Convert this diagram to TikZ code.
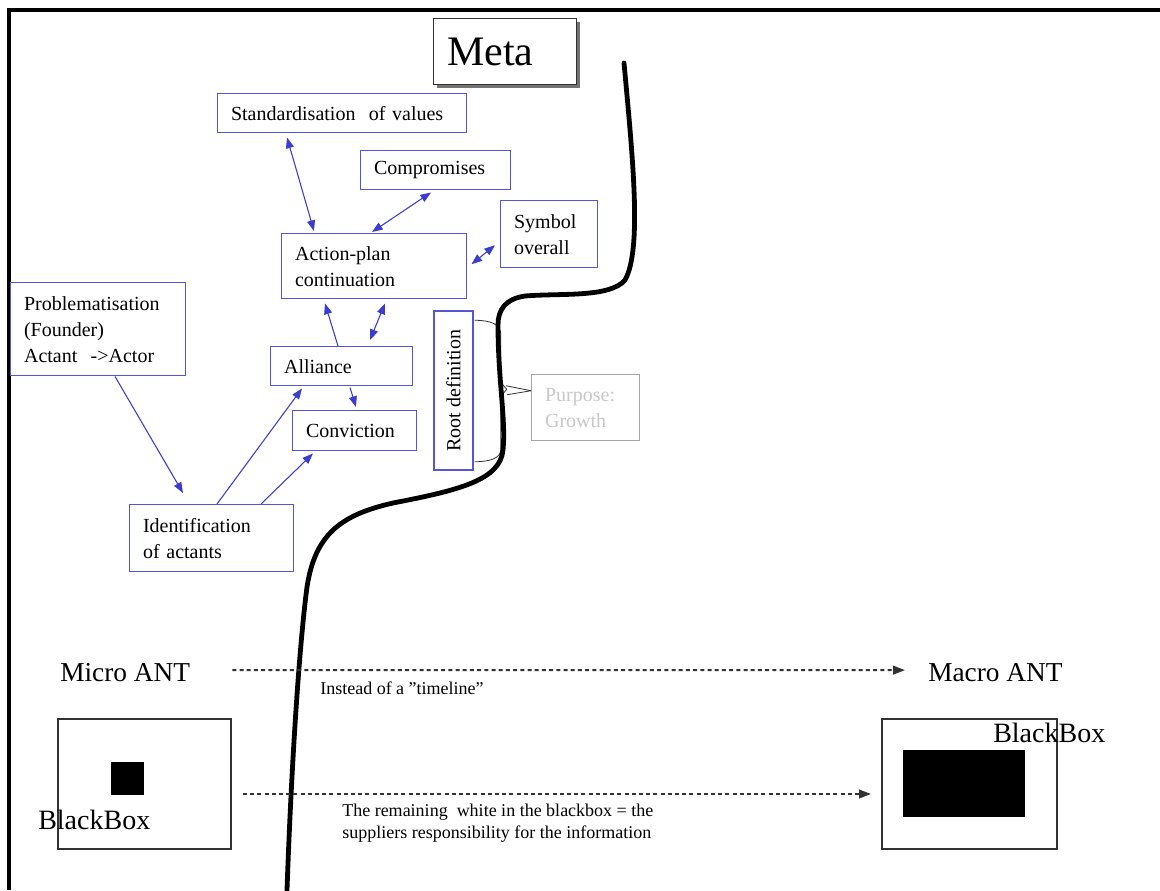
\documentclass[tikz,border=0pt]{standalone}
\usepackage{fontspec}
\setmainfont{Liberation Serif}
\usetikzlibrary{arrows.meta,calc,shadows}
\definecolor{boxblue}{RGB}{85,85,215}
\definecolor{linkblue}{RGB}{60,60,205}
\definecolor{mutedgray}{RGB}{165,165,165}
\definecolor{fadedtext}{RGB}{200,200,200}
\definecolor{darkline}{RGB}{50,50,50}
\begin{document}
\begin{tikzpicture}[x=0.75pt,y=-0.75pt,
  box/.style={draw=boxblue, line width=1.1pt, anchor=north west, align=left,
    inner xsep=10pt, inner ysep=2pt, font=\fontsize{15}{19.5}\selectfont},
  link/.style={draw=linkblue, line width=0.8pt, -{Triangle[length=8pt,width=6pt]}},
  dlink/.style={link, {Triangle[length=8pt,width=6pt]}-{Triangle[length=8pt,width=6pt]}},
  plainbox/.style={draw=darkline, line width=1.5pt},
  label/.style={anchor=base west, inner sep=0pt},
  timeline/.style={draw=darkline, line width=1.4pt, dash pattern=on 3pt off 2.4pt,
    -{Triangle[length=9pt,width=6.5pt]}},
  bracket/.style={draw=darkline, line width=0.6pt},
  frontier/.style={draw=black, line width=3.6pt, line cap=round},
]
\useasboundingbox (0,0) rectangle (1160,890);
\fill[white] (0,0) rectangle (1160,890);

% page frame (top and left edges)
\draw[line width=2.3pt] (9,890) -- (9,10) -- (1160,10);

% title box with shadow
\node[draw=darkline, line width=1.1pt, anchor=north west, align=left,
  fill=white, drop shadow={shadow xshift=2.6pt, shadow yshift=-2.6pt, fill=black!55, opacity=1},
  minimum height=49.5pt, text width=87.25pt, inner xsep=10pt,
  font=\fontsize{31.5}{36}\selectfont] (meta) at (433,18) {Meta};

% process boxes
\node[box, text width=166.75pt, minimum height=29.25pt] (std) at (217,93) {Standardisation~ of values};
\node[box, text width=92.5pt, minimum height=29.25pt] (comp) at (360,150) {Compromises};
\node[box, text width=52.75pt, minimum height=50.25pt] (sym) at (500,200) {Symbol\\overall};
\node[box, text width=118.75pt, minimum height=48.75pt] (act) at (281,233) {Action-plan\\continuation};
\node[box, text width=111.25pt, minimum height=69.75pt] (prob) at (10,282) {Problematisation\\(Founder)\\Actant~ ->Actor};
\node[box, text width=86.5pt, minimum height=29.25pt] (all) at (270,346) {Alliance};
\node[box, text width=73pt, minimum height=30pt] (conv) at (292,410) {Conviction};
\node[box, text width=103pt, minimum height=50.25pt] (ident) at (129,504) {Identification\\of actants};
\node[draw=boxblue, line width=1.1pt, rotate=90, minimum width=119.25pt, minimum height=29.25pt,
  inner sep=0pt, font=\fontsize{15}{19.5}\selectfont] (root) at (453.5,390.5) {Root definition};
\node[box, draw=mutedgray, text=fadedtext, text width=61pt, minimum height=49.5pt] (purp) at (531,374) {Purpose:\\Growth};

% links between the boxes
\draw[dlink] ($(std.south west)+(70,4)$) -- ($(act.north west)+(33,-2)$);
\draw[dlink] ($(comp.south west)+(71,2)$) -- ($(act.north west)+(91,-1)$);
\draw[dlink] ($(sym.west)+(-5,11)$) -- ($(act.east)+(4,-2)$);
\draw[link] ($(all.north west)+(68,0)$) -- ($(act.south west)+(44,4)$);
\draw[dlink] ($(all.north west)+(100,-6)$) -- ($(act.south west)+(104,4)$);
\draw[link] ($(all.south west)+(80,1)$) -- ($(conv.north west)+(64,-3)$);
\draw[link] ($(prob.south west)+(105,0)$) -- ($(ident.north west)+(54,-11)$);
\draw[link] ($(ident.north west)+(88,0)$) -- ($(all.south west)+(32,2)$);
\draw[link] ($(ident.north west)+(132,0)$) -- ($(conv.south west)+(21,2)$);

% brace joining the root definition to its purpose
% (the box is turned by 90 degrees: its south east corner is the upper right one)
\coordinate (rtop) at ($(root.south east)+(1,10)$);
\coordinate (rbot) at ($(root.south west)+(1,-9)$);
\coordinate (ptip) at ($(purp.west)+(0,-17)$);
\draw[bracket] (rtop) .. controls ($(rtop)+(16,0)$) and ($(rtop)+(26,4)$) .. ($(rtop)+(26,14)$)
  -- ($(rtop)+(26,62)$) -- ($(rtop)+(32,69)$) -- ($(rtop)+(26,76)$)
  -- ($(rbot)+(26,-12)$) .. controls ($(rbot)+(26,-4)$) and ($(rbot)+(16,0)$) .. (rbot);
\draw[bracket] (ptip) -- ($(ptip)+(-25,-5)$);
\draw[bracket] (ptip) -- ($(ptip)+(-24,4)$);

% frontier between micro and meta level
\draw[frontier] (624,63) .. controls (633,160) and (642,250) .. (625,280)
  .. controls (610,298) and (560,293) .. (525,296)
  .. controls (505,299) and (498,310) .. (498,325)
  .. controls (498,380) and (506,420) .. (503,450)
  .. controls (500,480) and (460,490) .. (393,503)
  .. controls (340,515) and (315,535) .. (307,587)
  .. controls (300,640) and (292,750) .. (287,890);

% micro / macro level
\node[label, font=\fontsize{20.5}{24}\selectfont] (micro) at (60,681) {Micro ANT};
\node[label, font=\fontsize{20.5}{24}\selectfont] (macro) at (928,681) {Macro ANT};
\draw[timeline] ($(micro.east)+(42,-2)$) -- ($(macro.west)+(-23,-2)$);
\node[label, font=\fontsize{13.5}{16}\selectfont] (tl) at (320,694) {Instead of a "timeline"};

\node[plainbox, minimum width=129.75pt, minimum height=97.5pt, inner sep=0pt] (lbox) at (144.5,784) {};
\fill[black] (111,762) rectangle (144,795);
\node[plainbox, minimum width=131.25pt, minimum height=97.5pt, inner sep=0pt] (rbox) at (969.5,784) {};
\fill[black] (903,750) rectangle (1025,817);
\node[label, font=\fontsize{21}{24}\selectfont] (lbb) at (38,829) {BlackBox};
\node[label, font=\fontsize{21}{24}\selectfont] (rbb) at (993,742) {BlackBox};

\draw[timeline] ($(lbox.east)+(11,10)$) -- ($(rbox.west)+(-10,10)$);
\node[label, align=left, anchor=north west, font=\fontsize{13.5}{16.5}\selectfont] (note) at (342,804)
  {The remaining~ white in the blackbox = the\\suppliers responsibility for the information};
\end{tikzpicture}
\end{document}
